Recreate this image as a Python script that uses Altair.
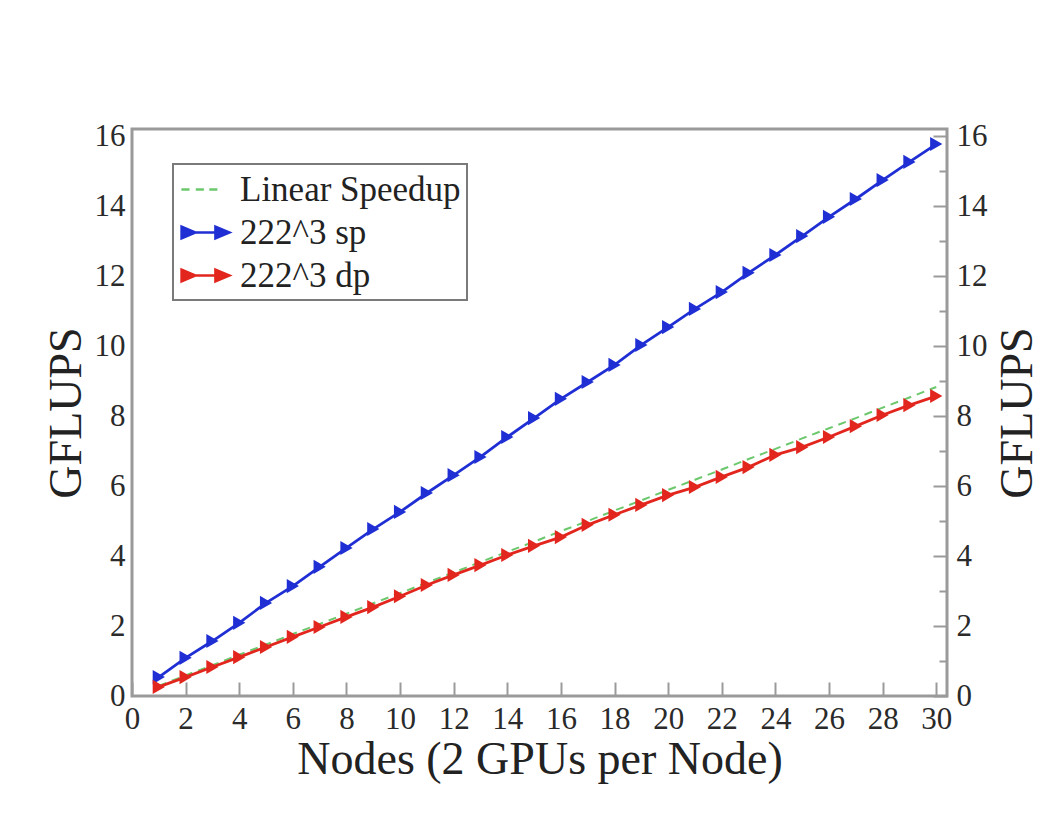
import altair as alt
import pandas as pd

# ---------------- data ----------------
nodes = list(range(1, 31))
linear_speedup = [0.29, 0.59, 0.88, 1.18, 1.47, 1.77, 2.06, 2.35, 2.65, 2.94,
                  3.24, 3.53, 3.83, 4.12, 4.41, 4.71, 5.00, 5.30, 5.59, 5.89,
                  6.18, 6.47, 6.77, 7.06, 7.36, 7.65, 7.94, 8.24, 8.53, 8.83]
sp_222 = [0.54, 1.09, 1.57, 2.09, 2.66, 3.14, 3.69, 4.23, 4.77, 5.26,
          5.80, 6.31, 6.83, 7.40, 7.94, 8.49, 8.97, 9.46, 10.03, 10.54,
          11.06, 11.54, 12.09, 12.60, 13.14, 13.69, 14.20, 14.74, 15.26, 15.77]
dp_222 = [0.26, 0.54, 0.83, 1.11, 1.40, 1.69, 1.97, 2.26, 2.54, 2.85,
          3.17, 3.46, 3.74, 4.03, 4.29, 4.54, 4.89, 5.18, 5.46, 5.74,
          5.97, 6.26, 6.54, 6.89, 7.11, 7.40, 7.71, 8.03, 8.31, 8.57]

series_names = ["Linear Speedup", "222^3 sp", "222^3 dp"]
series_colors = ["#6cc86c", "#1f2fd4", "#e2261e"]

x_ticks = list(range(0, 31, 2))
y_ticks = list(range(0, 17, 2))
y_minor = list(range(1, 17, 2))

# legend glyphs (custom symbol paths, unit = sqrt(symbolSize)/2 px)
legend_dash_path = "M-0.95,0L-0.5,0M-0.15,0L0.3,0M0.6,0L1.05,0"
legend_arrow_path = ("M-0.94,-0.33L-0.17,0L-0.94,0.33Z"
                     "M-0.3,0L1.0,0"
                     "M0.94,-0.33L1.72,0L0.94,0.33Z")
legend_paths = [legend_dash_path, legend_arrow_path, legend_arrow_path]

df_lin = pd.DataFrame({"nodes": nodes, "gflups": linear_speedup, "series": series_names[0]})
df_sp = pd.DataFrame({"nodes": nodes, "gflups": sp_222, "series": series_names[1]})
df_dp = pd.DataFrame({"nodes": nodes, "gflups": dp_222, "series": series_names[2]})
df_all = pd.concat([df_lin, df_sp, df_dp], ignore_index=True)

FONT = "Liberation Serif"
GREY = "#9a9a9a"
LABEL_SIZE = 31
TITLE_SIZE = 46

x_scale = alt.Scale(domain=[0, 30.4], nice=False, zero=False)
y_scale = alt.Scale(domain=[0, 16.2], nice=False)

label_style = dict(labelFont=FONT, labelFontSize=LABEL_SIZE, labelColor="#2a2a2a",
                   labelOverlap=False, labelFlush=False)
title_style = dict(titleFont=FONT, titleFontSize=TITLE_SIZE, titleFontWeight="normal",
                   titleColor="#222222")

# bottom axis labels + title, left axis labels + title
x_label_axis = alt.Axis(orient="bottom", values=x_ticks, ticks=False, tickSize=0,
                        domain=False, grid=False, labelPadding=8,
                        title="Nodes (2 GPUs per Node)", titlePadding=3,
                        **label_style, **title_style)
y_left_axis = alt.Axis(orient="left", values=y_ticks, ticks=False, tickSize=0,
                       domain=False, grid=False, labelPadding=7,
                       title="GFLUPS", titlePadding=4, **label_style, **title_style)
# inward major ticks on the bottom
x_tick_axis = alt.Axis(orient="bottom", values=x_ticks, labels=False, domain=False,
                       grid=False, tickSize=14, offset=-14, tickColor=GREY,
                       tickWidth=2, title=None)
# right axis labels + title
y_right_axis = alt.Axis(orient="right", values=y_ticks, ticks=False, tickSize=0,
                        domain=False, grid=False, labelPadding=9,
                        title="GFLUPS", titleAngle=270, titleBaseline="top",
                        titlePadding=8, **label_style, **title_style)
# inward ticks on the right (major and minor)
y_right_major = alt.Axis(orient="right", values=y_ticks, labels=False, domain=False,
                         grid=False, tickSize=14, offset=-14, tickColor=GREY,
                         tickWidth=2, title=None)
y_right_minor = alt.Axis(orient="right", values=y_minor, labels=False, domain=False,
                         grid=False, tickSize=8, offset=-8, tickColor=GREY,
                         tickWidth=2, title=None)

lin_line = alt.Chart(df_lin).mark_line(
    color=series_colors[0], strokeWidth=2, strokeDash=[8, 6]
).encode(
    x=alt.X("nodes:Q", scale=x_scale, axis=x_label_axis),
    y=alt.Y("gflups:Q", scale=y_scale, axis=y_left_axis),
)

sp_line = alt.Chart(df_sp).mark_line(color=series_colors[1], strokeWidth=2.8).encode(
    x=alt.X("nodes:Q", scale=x_scale, axis=x_tick_axis),
    y=alt.Y("gflups:Q", scale=y_scale, axis=y_right_axis),
)

dp_line = alt.Chart(df_dp).mark_line(color=series_colors[2], strokeWidth=2.8).encode(
    x=alt.X("nodes:Q", scale=x_scale, axis=None),
    y=alt.Y("gflups:Q", scale=y_scale, axis=y_right_major),
)

sp_pts = alt.Chart(df_sp).mark_point(
    shape="triangle-right", filled=True, size=200, color=series_colors[1], opacity=1
).encode(
    x=alt.X("nodes:Q", scale=x_scale, axis=None),
    y=alt.Y("gflups:Q", scale=y_scale, axis=y_right_minor),
)

dp_pts = alt.Chart(df_dp).mark_point(
    shape="triangle-right", filled=True, size=200, color=series_colors[2], opacity=1
).encode(
    x=alt.X("nodes:Q", scale=x_scale, axis=None),
    y=alt.Y("gflups:Q", scale=y_scale, axis=None),
)

# legend-only layer (no rows drawn)
leg_domain = series_names
legend_layer = alt.Chart(df_all).transform_filter("false").mark_point(
    filled=True, opacity=1, strokeWidth=2.5
).encode(
    fill=alt.Fill("series:N", scale=alt.Scale(domain=leg_domain, range=series_colors),
                  legend=alt.Legend(title=None)),
    stroke=alt.Stroke("series:N", scale=alt.Scale(domain=leg_domain, range=series_colors),
                      legend=alt.Legend(title=None)),
    shape=alt.Shape("series:N", scale=alt.Scale(domain=leg_domain, range=legend_paths),
                    legend=alt.Legend(title=None)),
)

chart = alt.layer(
    lin_line, sp_line, dp_line, sp_pts, dp_pts, legend_layer
).resolve_axis(
    x="independent", y="independent"
).properties(
    width=815, height=567,
    autosize=alt.AutoSizeParams(type="none"),
    padding={"left": 124, "top": 121, "right": 98, "bottom": 110},
    background="white",
).configure_view(
    stroke=GREY, strokeWidth=3
).configure_legend(
    orient="none", legendX=41, legendY=35,
    fillColor="white", strokeColor="#7a7a7a", strokeWidth=2,
    padding=6, rowPadding=5,
    labelFont=FONT, labelFontSize=35, labelColor="#222222", labelOffset=22,
    labelLimit=500,
    symbolSize=1296, symbolStrokeWidth=2.5, symbolType="circle",
)

chart.save("out.html", embed_options={"renderer": "svg", "actions": False})
